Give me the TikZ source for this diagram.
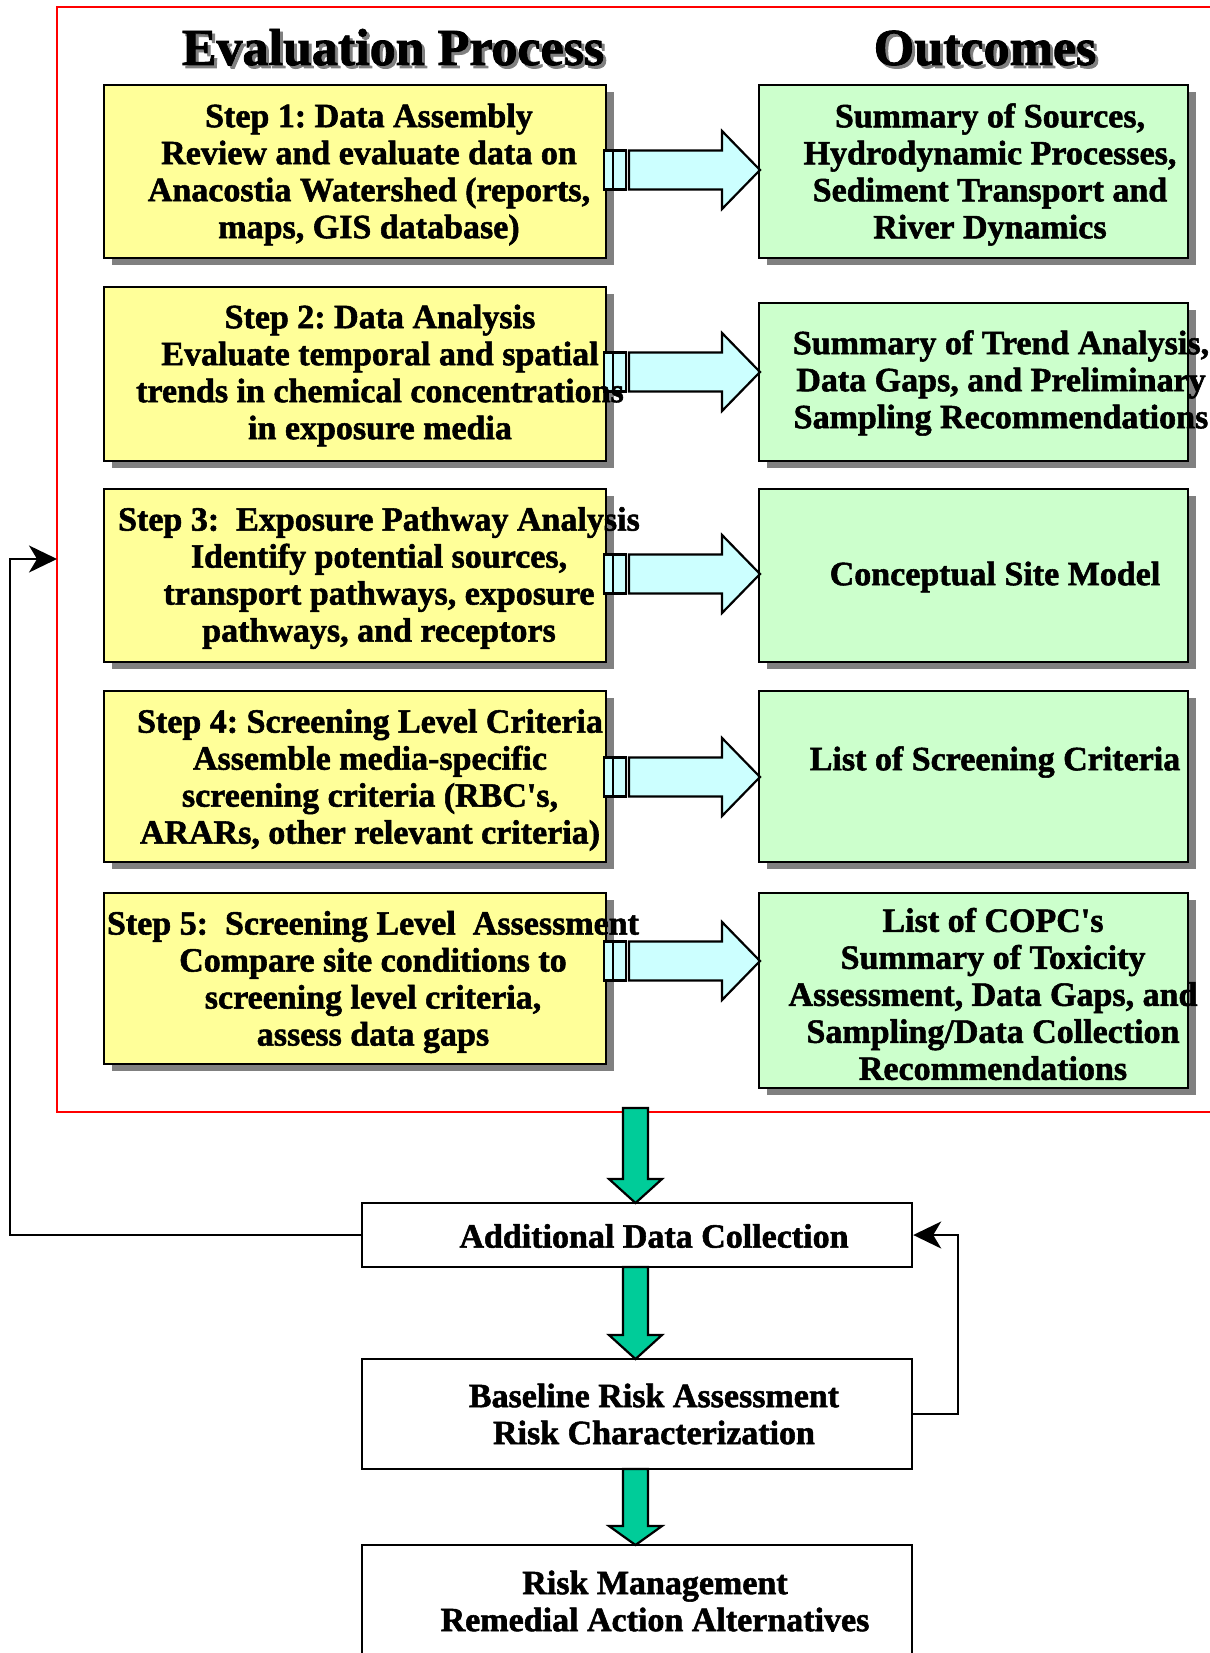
\documentclass[tikz,border=0pt]{standalone}
\usepackage{fontspec}
\setmainfont{Liberation Serif}[BoldFeatures={FakeBold=1.6}]
\usetikzlibrary{arrows.meta,shadows}
\definecolor{yfill}{HTML}{FFFF99}
\definecolor{gfill}{HTML}{CCFFCC}
\definecolor{cfill}{HTML}{CCFFFF}
\definecolor{tfill}{HTML}{00CC99}
\definecolor{shd}{HTML}{808080}
\frenchspacing
\newcommand\myRarrow[1]{%
  \filldraw[blk] (604,#1-19.5) rectangle (613,#1+19.5);
  \filldraw[blk] (613,#1-19.5) rectangle (626,#1+19.5);
  \filldraw[blk] (629,#1-19.5) -- (722,#1-19.5) -- (722,#1-39) -- (760,#1) -- (722,#1+39) -- (722,#1+19.5) -- (629,#1+19.5) -- cycle;}
\newcommand\myDarrow[3]{%
  \filldraw[dn] (623,#1) -- (648,#1) -- (648,#2) -- (662,#2) -- (635.5,#3) -- (609,#2) -- (623,#2) -- cycle;}
\newcommand\apos{\textquotesingle}
\begin{document}
\begin{tikzpicture}[x=0.5pt,y=-0.5pt,
  box/.style={draw=black,line width=1.2pt,rectangle,inner sep=0pt},
  ybox/.style={box,fill=yfill,drop shadow={shadow xshift=4pt,shadow yshift=-3.5pt,fill=shd,opacity=1}},
  gbox/.style={box,fill=gfill,drop shadow={shadow xshift=4pt,shadow yshift=-3.5pt,fill=shd,opacity=1}},
  wbox/.style={box,fill=white},
  txt/.style={font=\fontsize{17}{18.5}\selectfont\bfseries,align=center,inner sep=0pt},
  ttl/.style={font=\fontsize{26}{30}\selectfont\bfseries,inner sep=0pt,anchor=base},
  ttlshadow/.style={ttl,text=shd},
  blk/.style={draw=black,line width=1.1pt,fill=cfill},
  dn/.style={draw=black,line width=1.1pt,fill=tfill},
  fb/.style={draw=black,line width=1pt,-{Stealth[length=14pt,width=13.5pt,inset=4pt]}},
  frame/.style={draw=red,line width=1pt}
]
\useasboundingbox (0,0) rectangle (1209,1653);
\fill[white] (0,0) rectangle (1209,1653);

% red frame
\draw[frame] (57,7) rectangle (1215,1112);

% titles (with grey shadow)
\node[ttlshadow] (tep-s) at (396,68) {Evaluation Process};
\node[ttlshadow] (tout-s) at (988,68) {Outcomes};
\node[ttl] (tep) at (393,65) {Evaluation Process};
\node[ttl] (tout) at (985,65) {Outcomes};

% evaluation step boxes
\node[ybox,minimum width=251pt,minimum height=86.5pt] (y1) at (355,171.5) {};
\node[ybox,minimum width=251pt,minimum height=87pt] (y2) at (355,374) {};
\node[ybox,minimum width=251pt,minimum height=86.5pt] (y3) at (355,575.5) {};
\node[ybox,minimum width=251pt,minimum height=85.5pt] (y4) at (355,776.5) {};
\node[ybox,minimum width=251pt,minimum height=85.5pt] (y5) at (355,978.5) {};

% outcome boxes
\node[gbox,minimum width=214.5pt,minimum height=86.5pt] (g1) at (973.5,171.5) {};
\node[gbox,minimum width=214.5pt,minimum height=79pt] (g2) at (973.5,382) {};
\node[gbox,minimum width=214.5pt,minimum height=86.5pt] (g3) at (973.5,575.5) {};
\node[gbox,minimum width=214.5pt,minimum height=85.5pt] (g4) at (973.5,776.5) {};
\node[gbox,minimum width=214.5pt,minimum height=97.5pt] (g5) at (973.5,990.5) {};

% block arrows
\myRarrow{170}
\myRarrow{372}
\myRarrow{574}
\myRarrow{777}
\myRarrow{961}

% lower boxes
\node[wbox,minimum width=275pt,minimum height=32pt] (adc) at (637,1235) {};
\node[wbox,minimum width=275pt,minimum height=55pt] (brk) at (637,1414) {};
\node[wbox,minimum width=275pt,minimum height=77.5pt] (rm) at (637,1622.5) {};

% down arrows
\myDarrow{1108}{1179}{1203}
\myDarrow{1267}{1335}{1359}
\myDarrow{1469}{1526}{1545}

% feedback connectors
\coordinate (fbin) at (57,559);
\draw[fb] (adc.west) -| (10,559) -- (fbin);
\draw[fb] (brk.east) -- ++(45,0) |- (adc.east);

% texts
\node[txt] (ty1) at (369,174.5) {Step 1: Data Assembly\\Review and evaluate data on\\Anacostia Watershed (reports,\\maps, GIS database)};
\node[txt] (ty2) at (380,375.5) {Step 2: Data Analysis\\Evaluate temporal and spatial\\trends in chemical concentrations\\in exposure media};
\node[txt] (ty3) at (379,578) {Step 3:\ \ Exposure Pathway Analysis\\Identify potential sources,\\transport pathways, exposure\\pathways, and receptors};
\node[txt] (ty4) at (370,780) {Step 4: Screening Level Criteria\\Assemble media-specific\\screening criteria (RBC\apos s,\\ARARs, other relevant criteria)};
\node[txt] (ty5) at (373,982) {Step 5:\ \ Screening Level\ \ Assessment\\Compare site conditions to\\screening level criteria,\\assess data gaps};

\node[txt] (tg1) at (990,174.5) {Summary of Sources,\\Hydrodynamic Processes,\\Sediment Transport and\\River Dynamics};
\node[txt] (tg2) at (1001,383) {Summary of Trend Analysis,\\Data Gaps, and Preliminary\\Sampling Recommendations};
\node[txt] (tg3) at (995,577) {Conceptual Site Model};
\node[txt] (tg4) at (995,762) {List of Screening Criteria};
\node[txt] (tg5) at (993,994) {List of COPC\apos s\\Summary of Toxicity\\Assessment, Data Gaps, and\\Sampling/Data Collection\\Recommendations};

\node[txt] (tadc) at (654,1236) {Additional Data Collection};
\node[txt] (tbrk) at (654,1414) {Baseline Risk Assessment\\Risk Characterization};
\node[txt] (trm) at (655,1601) {Risk Management\\Remedial Action Alternatives};
\end{tikzpicture}
\end{document}
